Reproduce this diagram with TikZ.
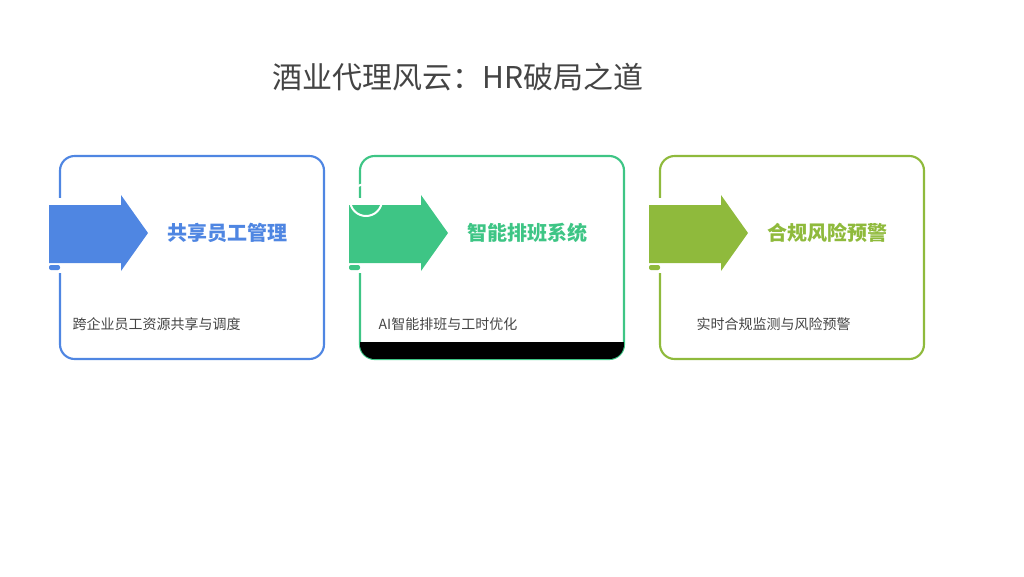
\documentclass[tikz,border=0pt]{standalone}
\usepackage{fontspec}
\newfontfamily\cjk{Noto Sans CJK SC}
\definecolor{cb}{HTML}{4F86E2}
\definecolor{cg}{HTML}{3EC585}
\definecolor{co}{HTML}{8FBA3C}
\definecolor{tx}{HTML}{444444}
\begin{document}
\begin{tikzpicture}[x=0.75pt,y=-0.75pt,
  card/.style={line width=1.6pt,rounded corners=11pt},
  ttl/.style={font=\cjk\bfseries\fontsize{15}{18}\selectfont,anchor=west},
  dsc/.style={font=\cjk\fontsize{10.5}{12}\selectfont,text=tx,anchor=west}]
\useasboundingbox (0,0) rectangle (1024,576);
\node[font=\cjk\fontsize{22.5}{26}\selectfont,text=tx] (title) at (458,77) {酒业代理风云：HR破局之道};
\foreach \dx/\c/\t/\d/\px [count=\i] in {0/cb/共享员工管理/跨企业员工资源共享与调度/68,300/cg/智能排班系统/AI智能排班与工时优化/374,600/co/合规风险预警/实时合规监测与风险预警/692}{
  \begin{scope}[xshift=\dx*0.75pt]
  \draw[card,draw=\c] (60,156) rectangle (324,359);
  \ifnum\i=2
   \begin{scope}
   \clip[rounded corners=11pt] (60,156) rectangle (324,359);
   \fill[black] (60,342) rectangle (324,359);
   \end{scope}
  \fi
  \fill[white] (56,198) rectangle (64,273);
  \fill[\c] (49,205) -- (121,205) -- (121,195) -- (148,233) -- (121,271) -- (121,263) -- (49,263) -- cycle;
  \fill[\c,rounded corners=1.5pt] (49,265) rectangle (60,270);
  \node[ttl,text=\c] (t\i) at (163,233) {\t};
  \end{scope}
  \node[dsc] (d\i) at (\px,324) {\d};
}
\draw[white,line width=1.5pt] (366,200) circle (16);
\end{tikzpicture}
\end{document}
